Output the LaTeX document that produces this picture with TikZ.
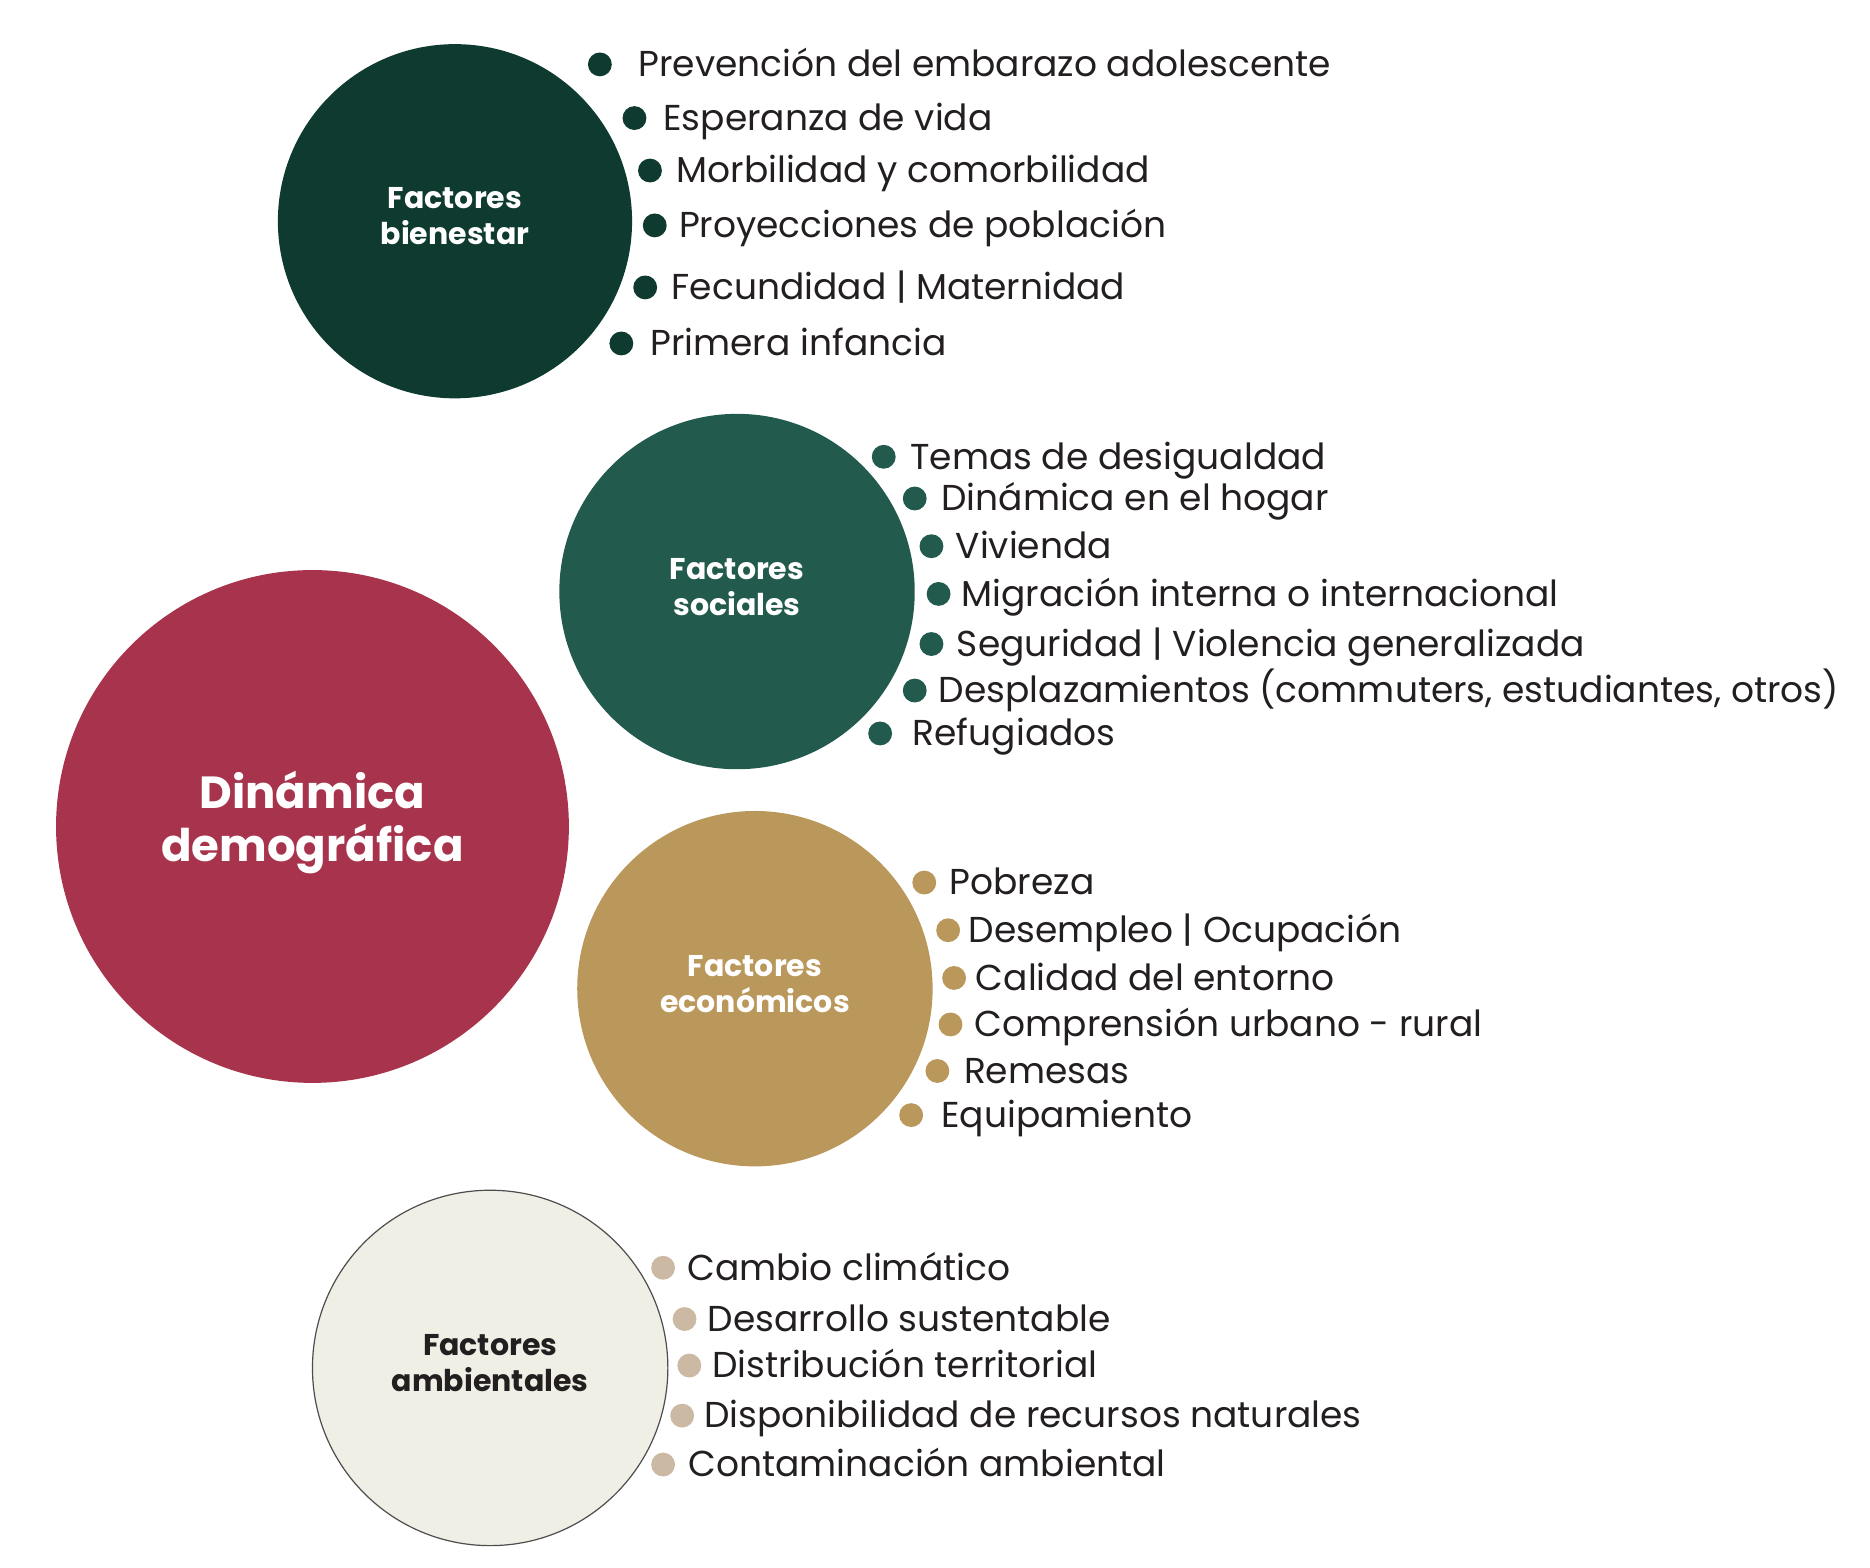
\documentclass[tikz,border=0pt]{standalone}
\usepackage{fontspec}
\setmainfont{Poppins}
\definecolor{demo}{HTML}{A7344C}
\definecolor{bien}{HTML}{0E3A2F}
\definecolor{soc}{HTML}{225B4D}
\definecolor{eco}{HTML}{BA985C}
\definecolor{ambfill}{HTML}{F0EFE5}
\definecolor{ambdot}{HTML}{CBB9A3}
\definecolor{ink}{HTML}{231F20}
% one drawing unit
\newlength{\unitpx}
\setlength{\unitpx}{0.5963pt}
\tikzset{
  bubble/.style={circle, inner sep=0pt, minimum size=#1\unitpx},
  bubblelabel/.style={align=center, font=\fontsize{15}{18}\selectfont\bfseries},
  bulletdot/.style={circle, inner sep=0pt, minimum size=20\unitpx, fill=#1},
  item/.style={anchor=west, inner sep=0pt, text=ink, text height=0.72em, text depth=0.2em,
    yshift=-6\unitpx, font=\fontsize{18}{21}\selectfont},
}
\begin{document}
\begin{tikzpicture}[x=\unitpx, y=-\unitpx]
\useasboundingbox (0,0) rectangle (1568,1314);

% main bubble
\node[bubble=430, fill=demo] (demo) at (262,693) {};
\node[text=white, align=center,
  font=\fontsize{22.5}{26.5}\selectfont\bfseries] (demolbl) at (262,690) {Dinámica\\demográfica};

% factor bubbles
\node[bubble=297, fill=bien] (bien) at (381.5,185.5) {};
\node[bubblelabel, text=white] (bienlbl) at (381.5,181) {Factores\\bienestar};

\node[bubble=298, fill=soc] (soc) at (618,496) {};
\node[bubblelabel, text=white] (soclbl) at (618,492) {Factores\\sociales};

\node[bubble=298, fill=eco] (eco) at (633,829) {};
\node[bubblelabel, text=white] (ecolbl) at (633,825) {Factores\\económicos};

\node[bubble=298, fill=ambfill, draw=ink!80, line width=0.6pt] (amb) at (411,1147) {};
\node[bubblelabel, text=ink] (amblbl) at (411,1143) {Factores\\ambientales};

% bienestar items
\foreach \dx/\tx/\yy/\txt [count=\i] in {
  503/535/54/{Prevención del embarazo adolescente},
  532/556/99/{Esperanza de vida},
  545/567/143/{Morbilidad y comorbilidad},
  549/569/189/{Proyecciones de población},
  541/563/241/{Fecundidad | Maternidad},
  521/545/288/{Primera infancia}}{
  \node[bulletdot=bien] (bd\i) at (\dx,\yy) {};
  \node[item] (bt\i) at (\tx,\yy) {\txt};
}

% sociales items
\foreach \dx/\tx/\yy/\txt [count=\i] in {
  741/763/383/{Temas de desigualdad},
  767/789/418/{Dinámica en el hogar},
  781/801/458/{Vivienda},
  787/806/498/{Migración interna o internacional},
  781/802/540/{Seguridad | Violencia generalizada},
  767/787/579/{Desplazamientos (commuters, estudiantes, otros)},
  738/765/615/{Refugiados}}{
  \node[bulletdot=soc] (sd\i) at (\dx,\yy) {};
  \node[item] (st\i) at (\tx,\yy) {\txt};
}

% economicos items
\foreach \dx/\tx/\yy/\txt [count=\i] in {
  775/796/740/{Pobreza},
  795/812/780/{Desempleo | Ocupación},
  800/818/820/{Calidad del entorno},
  797/817/859/{Comprensión urbano - rural},
  786/808/898/{Remesas},
  764/789/935/{Equipamiento}}{
  \node[bulletdot=eco] (ed\i) at (\dx,\yy) {};
  \node[item] (et\i) at (\tx,\yy) {\txt};
}

% ambientales items
\foreach \dx/\tx/\yy/\txt [count=\i] in {
  556/576/1063/{Cambio climático},
  574/593/1106/{Desarrollo sustentable},
  578/597/1145/{Distribución territorial},
  572/590/1187/{Disponibilidad de recursos naturales},
  556/577/1228/{Contaminación ambiental}}{
  \node[bulletdot=ambdot] (ad\i) at (\dx,\yy) {};
  \node[item] (at\i) at (\tx,\yy) {\txt};
}
\end{tikzpicture}
\end{document}
